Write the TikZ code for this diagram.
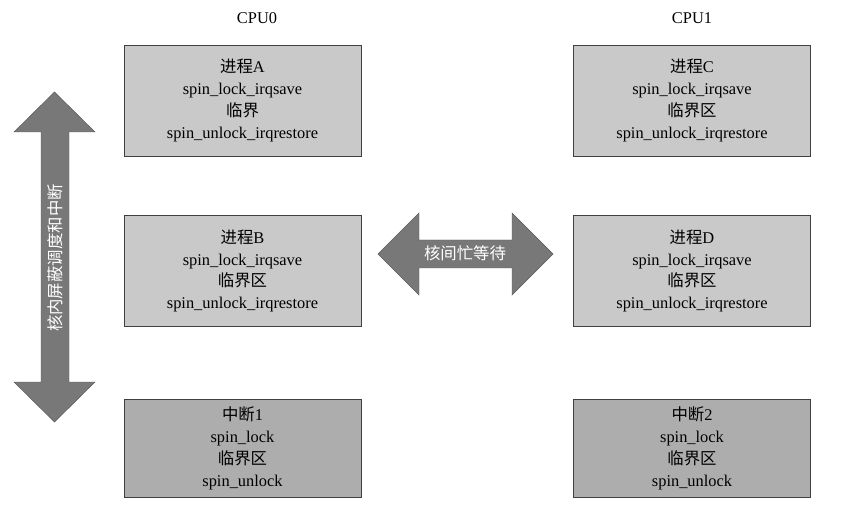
\documentclass[tikz,border=0pt]{standalone}
\usepackage{fontspec}
\setmainfont{Liberation Serif}
\newfontfamily\cjk{Noto Sans CJK SC}
\newcommand{\zh}[1]{{\cjk #1}}
\begin{document}
\begin{tikzpicture}[x=0.03cm,y=-0.03cm,
    procbox/.style={draw=black!75,fill=black!21,minimum width=7.11cm,minimum height=3.33cm,
        align=center,font=\fontsize{14}{18.7}\selectfont},
    irqbox/.style={procbox,fill=black!32,minimum height=2.94cm},
    fatarrow/.style={fill=black!53,draw=black!65},
    arrowtext/.style={text=white,font=\cjk\fontsize{14}{16}\selectfont}]
    \useasboundingbox (0,0) rectangle (847,517);
    \node[font=\fontsize{14}{16}\selectfont] (cpu0) at (257,18) {CPU0};
    \node[font=\fontsize{14}{16}\selectfont] (cpu1) at (692,18) {CPU1};
    \foreach \n/\x/\y/\p/\c in {procA/242.5/100.5/A/临界,procB/242.5/271/B/临界区,procC/692/100.5/C/临界区,procD/692/271/D/临界区}
        \node[procbox] (\n) at (\x,\y) {\zh{进程}\p\\spin\_lock\_irqsave\\\zh{\c}\\spin\_unlock\_irqrestore};
    \foreach \n/\x/\k in {irqA/242.5/1,irqB/692/2}
        \node[irqbox] (\n) at (\x,448) {\zh{中断}\k\\spin\_lock\\\zh{临界区}\\spin\_unlock};
    % fat arrows
    \filldraw[fatarrow] (54.5,92) -- (95,132) -- (69,132) -- (69,382) -- (95,382) -- (54.5,422)
        -- (14,382) -- (41,382) -- (41,132) -- (14,132) -- cycle;
    \filldraw[fatarrow] (378,254) -- (419,213) -- (419,240) -- (512,240) -- (512,213) -- (553,254)
        -- (512,295) -- (512,268) -- (419,268) -- (419,295) -- cycle;
    \node[arrowtext,rotate=90] (shield) at (55,258) {核内屏蔽调度和中断};
    \node[arrowtext] (busywait) at (465,253) {核间忙等待};
\end{tikzpicture}
\end{document}
